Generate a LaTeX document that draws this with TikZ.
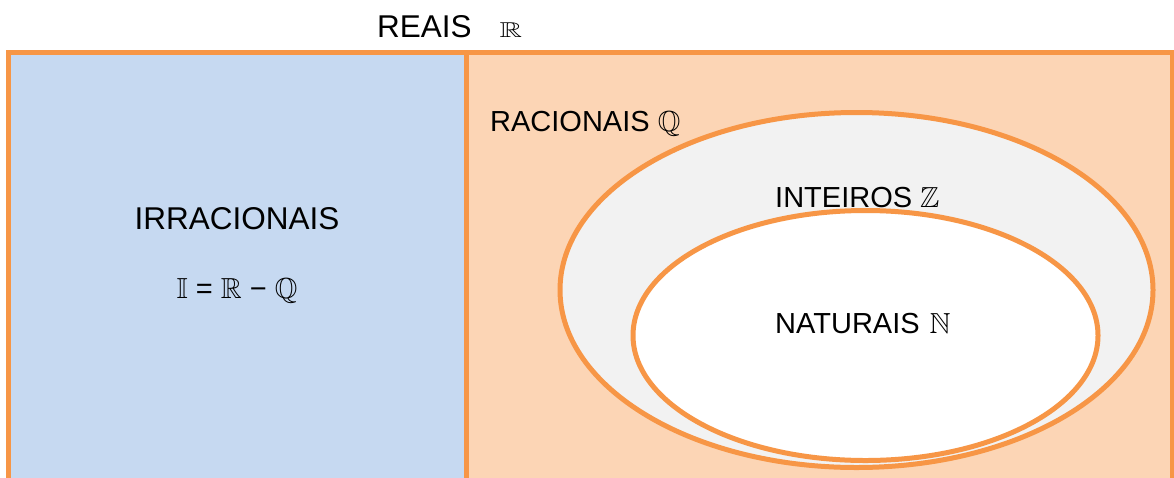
\documentclass[tikz,border=0pt]{standalone}
\usepackage{graphicx}
\usepackage{fontspec}
\setmainfont{Liberation Sans}
\DeclareFontFamily{U}{mybb}{}
\DeclareFontShape{U}{mybb}{m}{n}{<-> msbm10}{}
\newcommand\bbl[1]{{\usefont{U}{mybb}{m}{n}#1}}
\definecolor{ora}{HTML}{F79646}
\definecolor{peach}{HTML}{FCD5B5}
\definecolor{lblue}{HTML}{C6D9F1}
\definecolor{lgray}{HTML}{F2F2F2}
\tikzset{
  border/.style={draw=ora, line width=5pt},
  big/.style={inner sep=0pt, font=\fontsize{31.5}{36}\selectfont},
  lbl/.style={inner sep=0pt, font=\fontsize{29}{34}\selectfont},
}
\begin{document}
\begin{tikzpicture}[x=1pt,y=-1pt]
\useasboundingbox (0,0) rectangle (1174,477);
\clip (0,0) rectangle (1174,477);
% region fills
\fill[lblue] (8,52.5) rectangle (466.5,495);
\fill[peach] (466.5,52.5) rectangle (1172.5,495);
% sets
\draw[border, fill=lgray] (856.5,290) ellipse [x radius=296.5pt, y radius=177.5pt];
\draw[border, fill=white] (865.5,335.5) ellipse [x radius=232.5pt, y radius=125pt];
% frame
\draw[border] (8,495) -- (8,52.5) -- (1172.5,52.5) -- (1172.5,495);
\draw[border] (466.5,52.5) -- (466.5,495);
% texts
\node[big, anchor=base west] (reais) at (377,37) {REAIS\hspace{28pt}\scalebox{1.45}[1]{\fontsize{21.5}{24}\selectfont\bbl{R}}};
\node[big, anchor=base] (irr) at (237,229) {IRRACIONAIS};
\node[lbl, anchor=base] (irrdef) at (237,298) {\bbl{I} = \bbl{R} − \bbl{Q}};
\node[lbl, anchor=base west] (rac) at (490,131) {RACIONAIS \bbl{Q}};
\node[lbl, anchor=base west] (int) at (775,207) {INTEIROS \bbl{Z}};
\node[lbl, anchor=base west] (nat) at (775,333) {NATURAIS\hspace{10pt}\bbl{N}};
\end{tikzpicture}
\end{document}
